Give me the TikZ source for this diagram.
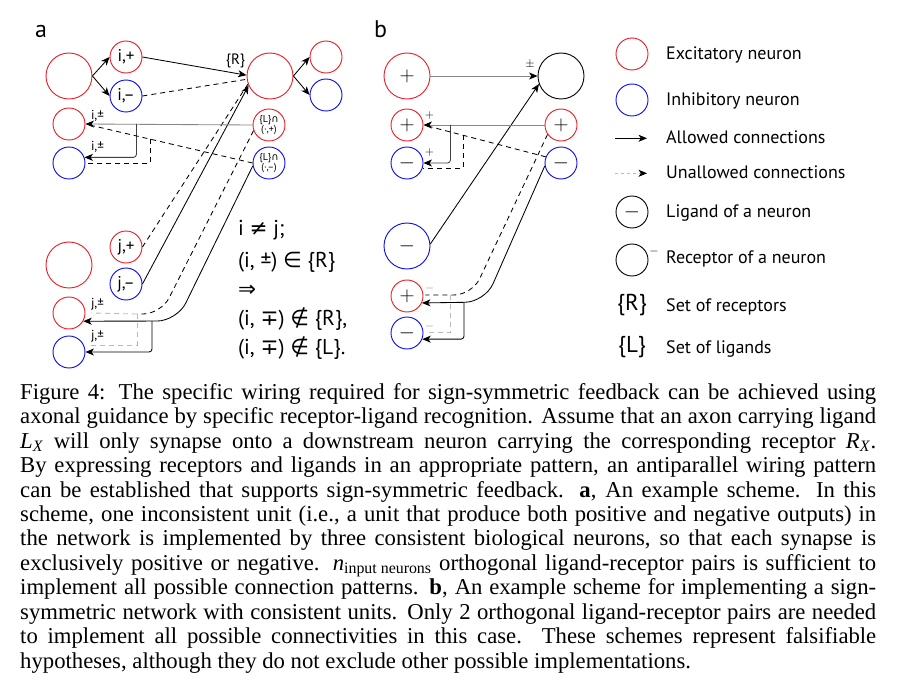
\documentclass[tikz,border=0pt]{standalone}
\usepackage{fontspec}
\setmainfont{Liberation Serif}
\newfontfamily\dsans{PT Sans}
\newfontfamily\dsym{DejaVu Sans}
\usetikzlibrary{arrows.meta,calc}
\definecolor{nred}{RGB}{237,28,36}
\definecolor{nblue}{RGB}{10,10,240}
\definecolor{lgray}{RGB}{135,135,135}
\definecolor{llgray}{RGB}{185,185,185}
\newcommand{\capline}[1]{\makebox[856pt][s]{#1}}
\tikzset{
  nrn/.style={circle, inner sep=0pt, line width=0.9pt, font=\dsans\fontsize{17}{17}\selectfont},
  sm/.style={nrn, minimum size=32pt},
  bg/.style={nrn, minimum size=46pt},
  exc/.style={draw=nred},
  inh/.style={draw=nblue},
  blk/.style={draw=black},
  sym/.style={font=\fontsize{22}{22}\selectfont},
  tinytxt/.style={font=\dsans\fontsize{10}{10.5}\selectfont, align=center},
  conn/.style={line width=0.85pt, -{Stealth[length=8.5pt,width=7pt,inset=2.4pt,color=black]}},
  dconn/.style={line width=0.85pt, dash pattern=on 5pt off 4pt},
  sidelbl/.style={font=\dsans\fontsize{13}{13}\selectfont, inner sep=0pt},
  lgt/.style={font=\dsans\fontsize{18}{18}\selectfont, inner sep=0pt, anchor=base west},
  ruletxt/.style={font=\dsans\fontsize{21.5}{21.5}\selectfont, inner sep=0pt, anchor=base west},
  panel/.style={font=\dsans\fontsize{24}{24}\selectfont, inner sep=0pt, anchor=base west},
}
\begin{document}
\begin{tikzpicture}[x=1pt,y=-1pt]
\useasboundingbox[fill=white] (0,0) rectangle (898,690);

% ---------------- panel a ----------------
\node[panel] (pa) at (35,38) {a};
\node[bg,exc] (A0) at (69,76) {};
\node[sm,exc] (Aip) at (126,57) {i,+};
\node[sm,inh] (Aim) at (126,96) {i,–};
\node[bg,exc] (AR) at (270,76) {};
\node[sm,exc] (AR1) at (326,57) {};
\node[sm,inh] (AR2) at (326,95) {};
\node[sm,exc] (B1) at (69,124) {};
\node[sm,inh] (B2) at (69,163) {};
\node[sm,exc,tinytxt] (L1) at (269,125) {\{L\}{\dsym ∩}\\(·,+)};
\node[sm,inh,tinytxt] (L2) at (269,163) {\{L\}{\dsym ∩}\\(·,–)};
\node[bg,exc] (C0) at (69,265) {};
\node[sm,exc] (Cjp) at (126,247) {j,+};
\node[sm,inh] (Cjm) at (126,284) {j,–};
\node[sm,exc] (D1) at (69,313) {};
\node[sm,inh] (D2) at (69,352) {};

\node[sidelbl] (lb1) at (97.5,116) {i,±};
\node[sidelbl] (lb2) at (97.5,147) {i,±};
\node[sidelbl] (lb3) at (97.5,304) {j,±};
\node[sidelbl] (lb4) at (97.5,336) {j,±};
\node[font=\dsans\fontsize{15}{15}\selectfont, inner sep=0pt] (Rl) at (235.5,60.5) {\{R\}};

\draw[conn] (A0.east) -- (Aip.west);
\draw[conn] (A0.east) -- (Aim.west);
\draw[conn] (AR.east) -- (AR1.west);
\draw[conn] (AR.east) -- (AR2.west);
\draw[conn] (Aip.east) -- (AR.178);
\draw[dconn] (Aim.east) -- (AR.188);
\draw[dconn] (Cjp.east) -- (AR.200);
\draw[conn] (Cjm.east) -- (AR.204);

% feedback to i
\draw[conn, draw=lgray] (L1.west) -- (B1.east);
\coordinate (abr) at ($(B1.east)+(51,0)$);
\draw[conn, draw=darkgray, rounded corners=3pt] (abr) |- (B2.20);
\draw[dconn] (L2.west) -- ($(B1.east)+(4,1)$);
\coordinate (adb) at ($(L2.west)!0.61!(B1.east)$);
\draw[dconn] (adb) |- (B2.east);

% feedback to j
\coordinate (jd1) at (161,314);
\coordinate (jd2) at (137,314);
\draw[dconn, rounded corners=18pt] (L1.200) -- (jd1) -- (jd2);
\draw[dconn, draw=llgray] (jd2) -- ($(D1.east)+(6,0)$);
\draw[dconn, draw=llgray] (jd2) |- ($(D2.25)+(6,0)$);
\coordinate (js1) at (177,321);
\coordinate (js2) at (152,321);
\draw[conn, rounded corners=20pt] (L2.190) -- (js1) -- (D1.-30);
\draw[conn, rounded corners=3pt] (js2) |- (D2.east);

% rule text
\node[ruletxt] (r1) at (238,236) {i {\dsym ≠} j;};
\node[ruletxt] (r2) at (238,267) {(i, ±) {\dsym ∈} \{R\}};
\node[ruletxt] (r3) at (238,296) {{\dsym ⇒}};
\node[ruletxt] (r4) at (238,325) {(i, {\dsym ∓}) {\dsym ∉} \{R\},};
\node[ruletxt] (r5) at (238,354) {(i, {\dsym ∓}) {\dsym ∉} \{L\}.};

% ---------------- panel b ----------------
\node[panel] (pb) at (374,38) {b};
\node[bg,exc,sym] (P0) at (407,76) {$+$};
\node[bg,blk] (PR) at (561,76) {};
\node[sm,exc,sym] (Q1) at (407,125) {$+$};
\node[sm,inh,sym] (Q2) at (407,163) {$-$};
\node[sm,exc,sym] (R1) at (561,125) {$+$};
\node[sm,inh,sym] (R2) at (561,163) {$-$};
\node[bg,inh,sym] (S0) at (407,246) {$-$};
\node[sm,exc,sym] (T1) at (407,296) {$+$};
\node[sm,inh,sym] (T2) at (407,333) {$-$};

\node[font=\fontsize{12}{12}\selectfont, inner sep=0pt] (qr1) at (429.5,116) {$+$};
\node[font=\fontsize{12}{12}\selectfont, inner sep=0pt] (qr2) at (429.5,153) {$+$};
\node[font=\fontsize{12}{12}\selectfont, inner sep=0pt, text=lgray] (tr1) at (429.5,288) {$-$};
\node[font=\fontsize{12}{12}\selectfont, inner sep=0pt, text=lgray] (tr2) at (429.5,326) {$-$};
\node[font=\fontsize{13}{13}\selectfont, inner sep=0pt] (prl) at (530,65) {$\pm$};

\draw[conn, draw=lgray] (P0.east) -- (PR.west);
\draw[conn] (S0.5) -- (PR.200);

\draw[conn, draw=lgray] (R1.west) -- (Q1.east);
\coordinate (bbr) at ($(Q1.east)+(27,0)$);
\draw[conn, draw=darkgray, rounded corners=3pt] (bbr) |- (Q2.east);
\draw[dconn] (R2.158) -- ($(Q1.east)+(4,1)$);
\coordinate (bdb) at ($(R2.158)!0.675!(Q1.east)$);
\draw[dconn] (bdb) |- (Q2.-18);

\coordinate (kd1) at (472,295);
\coordinate (kd2) at (450,295);
\draw[dconn, rounded corners=18pt] (R1.215) -- (kd1) -- ($(T1.east)+(2,-1)$);
\draw[dconn, draw=llgray] (kd2) |- ($(T2.east)+(2,-0.5)$);
\coordinate (ks1) at (485,302);
\coordinate (ks2) at (464,302.7);
\draw[conn, rounded corners=20pt] (R2.190) -- (ks1) -- (T1.-25);
\draw[conn, rounded corners=3pt] (ks2) |- (T2.-22);

% ---------------- legend ----------------
\node[sm,exc] (gE) at (632,54) {};
\node[lgt] (tE) at (666,60) {Excitatory neuron};
\node[sm,inh] (gI) at (632,100) {};
\node[lgt] (tI) at (666,106) {Inhibitory neuron};
\coordinate (ga1) at (615,138.3);
\coordinate (ga2) at (647,138.3);
\draw[conn] (ga1) -- (ga2);
\node[lgt] (tA) at (666,144) {Allowed connections};
\coordinate (gu1) at (615,173.3);
\coordinate (gu2) at (647,173.3);
\draw[conn, dash pattern=on 3pt off 3pt, draw=llgray] (gu1) -- (gu2);
\node[lgt] (tU) at (666,179) {Unallowed connections};
\node[sm,blk,sym] (gL) at (632,212) {$-$};
\node[lgt] (tL) at (666,218) {Ligand of a neuron};
\node[sm,blk] (gR) at (632,260) {};
\node[font=\fontsize{12}{12}\selectfont, inner sep=0pt] (gRm) at (654,251.5) {$-$};
\node[lgt] (tR) at (666,264) {Receptor of a neuron};
\node[font=\dsans\fontsize{23}{23}\selectfont, inner sep=0pt] (gS) at (632,305) {\{R\}};
\node[lgt] (tS) at (666,311) {Set of receptors};
\node[font=\dsans\fontsize{23}{23}\selectfont, inner sep=0pt] (gT) at (632,347) {\{L\}};
\node[lgt] (tT) at (666,353) {Set of ligands};

% ---------------- caption ----------------
\node[anchor=base west, inner sep=0pt] (cap) at (20,399) {\parbox[t]{856pt}{\fontsize{22.7}{24.5}\selectfont\hfuzz=20pt
\capline{Figure 4: The specific wiring required for sign-symmetric feedback can be achieved using}\\
\capline{axonal guidance by specific receptor-ligand recognition. Assume that an axon carrying ligand}\\
\capline{\textit{L}\textsubscript{\textit{X}} will only synapse onto a downstream neuron carrying the corresponding receptor \textit{R}\textsubscript{\textit{X}}.}\\
\capline{By expressing receptors and ligands in an appropriate pattern, an antiparallel wiring pattern}\\
\capline{can be established that supports sign-symmetric feedback. \textbf{a}, An example scheme. In this}\\
\capline{scheme, one inconsistent unit (i.e., a unit that produce both positive and negative outputs) in}\\
\capline{the network is implemented by three consistent biological neurons, so that each synapse is}\\
\capline{exclusively positive or negative. \textit{n}\textsubscript{input neurons} orthogonal ligand-receptor pairs is sufficient to}\\
\capline{implement all possible connection patterns. \textbf{b}, An example scheme for implementing a sign-}\\
\capline{symmetric network with consistent units. Only 2 orthogonal ligand-receptor pairs are needed}\\
\capline{to implement all possible connectivities in this case. These schemes represent falsifiable}\\
hypotheses, although they do not exclude other possible implementations.}};
\end{tikzpicture}
\end{document}
